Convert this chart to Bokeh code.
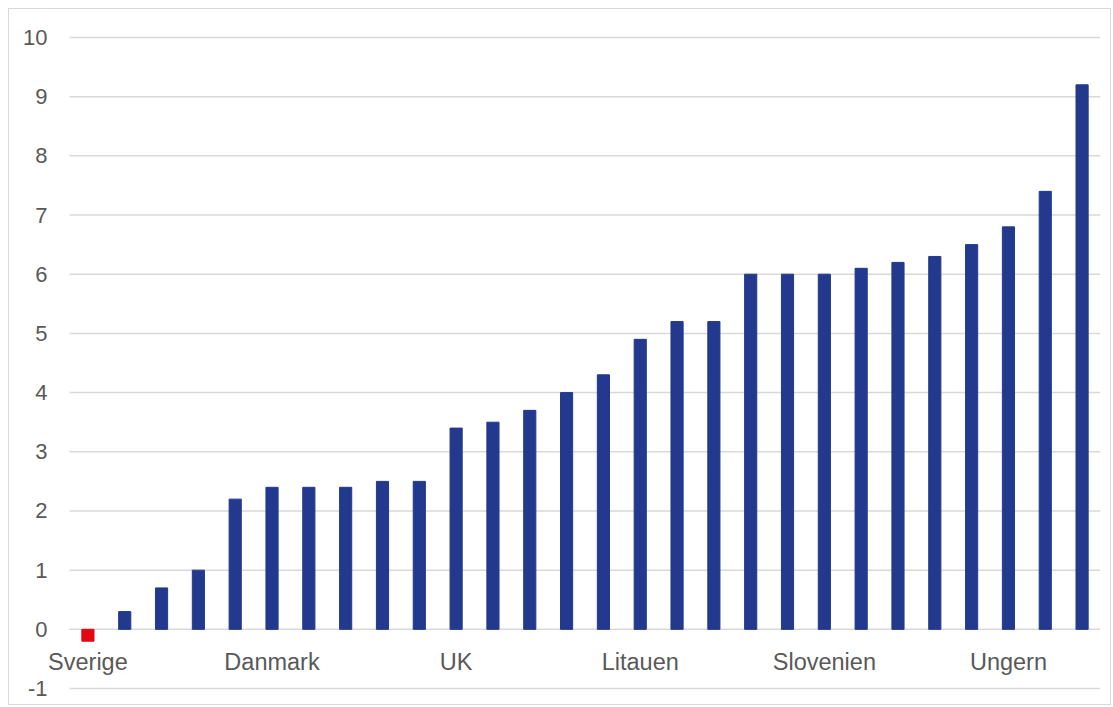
from bokeh.plotting import figure
from bokeh.models import ColumnDataSource, FixedTicker, Range1d, Label
from bokeh.embed import file_html
from bokeh.resources import INLINE

values = [-0.2, 0.3, 0.7, 1.0, 2.2, 2.4, 2.4, 2.4, 2.5, 2.5, 3.4, 3.5, 3.7, 4.0,
          4.3, 4.9, 5.2, 5.2, 6.0, 6.0, 6.0, 6.1, 6.2, 6.3, 6.5, 6.8, 7.4, 9.2]
label_names = ["Sverige", "Danmark", "UK", "Litauen", "Slovenien", "Ungern"]
label_index = [0, 5, 10, 15, 20, 25]
y_ticks = [-1, 0, 1, 2, 3, 4, 5, 6, 7, 8, 9, 10]

BLUE = "#22398e"
RED = "#e30613"
GRID = "#d9d9d9"
xs = list(range(len(values)))
colors = [RED if i in label_index[:1] else BLUE for i in xs]
n = len(values)

src = ColumnDataSource(dict(x=xs, top=values, color=colors))

# frame extends a little left of the first category so the first label is not clipped
x_left = -0.5 - 27 / 36.82
p = figure(width=1103, height=697, output_backend="svg", toolbar_location=None,
           x_axis_location=None,
           x_range=Range1d(x_left, n - 0.5), y_range=Range1d(-1.05, 10.05),
           min_border_left=33, min_border_right=12, min_border_top=25, min_border_bottom=15)
p.styles = {"border": "1px solid #d9d9d9", "margin-left": "8px", "margin-top": "8px"}
p.outline_line_color = None
p.background_fill_color = "white"

p.segment(x0=[-0.5] * len(y_ticks), x1=[n - 0.5] * len(y_ticks), y0=y_ticks, y1=y_ticks,
          line_color=GRID, line_width=1.5)

p.vbar(x="x", top="top", bottom=0, width=0.33, color="color", source=src)

for xi, name in zip(label_index, label_names):
    p.add_layout(Label(x=xi, y=-0.56, text=name, text_align="center",
                       text_baseline="middle", text_font="Liberation Sans",
                       text_font_size="23.5px", text_color="#595959"))

p.xgrid.visible = False
p.ygrid.visible = False
p.yaxis.ticker = FixedTicker(ticks=y_ticks)
p.yaxis.major_label_overrides = {t: str(t) for t in y_ticks}
p.yaxis.axis_line_color = None
p.yaxis.major_tick_line_color = None
p.yaxis.minor_tick_line_color = None
p.yaxis.major_label_standoff = -11
p.yaxis.major_label_text_font = "Liberation Sans"
p.yaxis.major_label_text_font_size = "22px"
p.yaxis.major_label_text_color = "#595959"

open("out.html", "w").write(file_html(p, INLINE))
